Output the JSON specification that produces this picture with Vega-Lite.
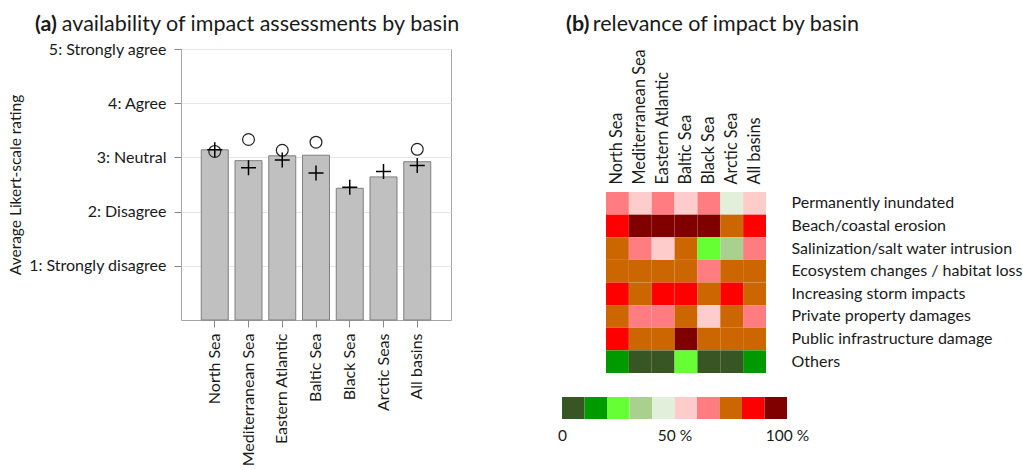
{
  "$schema": "https://vega.github.io/schema/vega-lite/v6.json",
  "padding": {"left": 7, "top": 13, "right": 5, "bottom": 5},
  "background": "white",
  "config": {
    "font": "Lato",
    "view": {"stroke": null},
    "axis": {"labelColor": "#1a1a1a", "titleColor": "#1a1a1a", "titleFontWeight": "normal"},
    "title": {"color": "#1a1a1a", "subtitleColor": "#1a1a1a"}
  },
  "datasets": {
    "bars": [
      {"basin": "North Sea", "mean": 3.14, "circle": 3.11, "cross": 3.14},
      {"basin": "Mediterranean Sea", "mean": 2.94, "circle": 3.33, "cross": 2.81},
      {"basin": "Eastern Atlantic", "mean": 3.03, "circle": 3.13, "cross": 2.95},
      {"basin": "Baltic Sea", "mean": 3.04, "circle": 3.28, "cross": 2.71},
      {"basin": "Black Sea", "mean": 2.43, "circle": null, "cross": 2.45},
      {"basin": "Arctic Seas", "mean": 2.64, "circle": null, "cross": 2.74},
      {"basin": "All basins", "mean": 2.92, "circle": 3.15, "cross": 2.85}
    ],
    "heat": [
      {"impact": "Permanently inundated", "basin": "North Sea", "pct": 65},
      {"impact": "Permanently inundated", "basin": "Mediterranean Sea", "pct": 55},
      {"impact": "Permanently inundated", "basin": "Eastern Atlantic", "pct": 65},
      {"impact": "Permanently inundated", "basin": "Baltic Sea", "pct": 55},
      {"impact": "Permanently inundated", "basin": "Black Sea", "pct": 65},
      {"impact": "Permanently inundated", "basin": "Arctic Sea", "pct": 45},
      {"impact": "Permanently inundated", "basin": "All basins", "pct": 55},
      {"impact": "Beach/coastal erosion", "basin": "North Sea", "pct": 85},
      {"impact": "Beach/coastal erosion", "basin": "Mediterranean Sea", "pct": 95},
      {"impact": "Beach/coastal erosion", "basin": "Eastern Atlantic", "pct": 95},
      {"impact": "Beach/coastal erosion", "basin": "Baltic Sea", "pct": 95},
      {"impact": "Beach/coastal erosion", "basin": "Black Sea", "pct": 95},
      {"impact": "Beach/coastal erosion", "basin": "Arctic Sea", "pct": 75},
      {"impact": "Beach/coastal erosion", "basin": "All basins", "pct": 85},
      {"impact": "Salinization/salt water intrusion", "basin": "North Sea", "pct": 75},
      {"impact": "Salinization/salt water intrusion", "basin": "Mediterranean Sea", "pct": 65},
      {"impact": "Salinization/salt water intrusion", "basin": "Eastern Atlantic", "pct": 55},
      {"impact": "Salinization/salt water intrusion", "basin": "Baltic Sea", "pct": 75},
      {"impact": "Salinization/salt water intrusion", "basin": "Black Sea", "pct": 25},
      {"impact": "Salinization/salt water intrusion", "basin": "Arctic Sea", "pct": 35},
      {"impact": "Salinization/salt water intrusion", "basin": "All basins", "pct": 65},
      {"impact": "Ecosystem changes / habitat loss", "basin": "North Sea", "pct": 75},
      {"impact": "Ecosystem changes / habitat loss", "basin": "Mediterranean Sea", "pct": 75},
      {"impact": "Ecosystem changes / habitat loss", "basin": "Eastern Atlantic", "pct": 75},
      {"impact": "Ecosystem changes / habitat loss", "basin": "Baltic Sea", "pct": 75},
      {"impact": "Ecosystem changes / habitat loss", "basin": "Black Sea", "pct": 65},
      {"impact": "Ecosystem changes / habitat loss", "basin": "Arctic Sea", "pct": 75},
      {"impact": "Ecosystem changes / habitat loss", "basin": "All basins", "pct": 75},
      {"impact": "Increasing storm impacts", "basin": "North Sea", "pct": 85},
      {"impact": "Increasing storm impacts", "basin": "Mediterranean Sea", "pct": 75},
      {"impact": "Increasing storm impacts", "basin": "Eastern Atlantic", "pct": 85},
      {"impact": "Increasing storm impacts", "basin": "Baltic Sea", "pct": 85},
      {"impact": "Increasing storm impacts", "basin": "Black Sea", "pct": 75},
      {"impact": "Increasing storm impacts", "basin": "Arctic Sea", "pct": 85},
      {"impact": "Increasing storm impacts", "basin": "All basins", "pct": 75},
      {"impact": "Private property damages", "basin": "North Sea", "pct": 75},
      {"impact": "Private property damages", "basin": "Mediterranean Sea", "pct": 65},
      {"impact": "Private property damages", "basin": "Eastern Atlantic", "pct": 65},
      {"impact": "Private property damages", "basin": "Baltic Sea", "pct": 75},
      {"impact": "Private property damages", "basin": "Black Sea", "pct": 55},
      {"impact": "Private property damages", "basin": "Arctic Sea", "pct": 75},
      {"impact": "Private property damages", "basin": "All basins", "pct": 65},
      {"impact": "Public infrastructure damage", "basin": "North Sea", "pct": 85},
      {"impact": "Public infrastructure damage", "basin": "Mediterranean Sea", "pct": 75},
      {"impact": "Public infrastructure damage", "basin": "Eastern Atlantic", "pct": 75},
      {"impact": "Public infrastructure damage", "basin": "Baltic Sea", "pct": 95},
      {"impact": "Public infrastructure damage", "basin": "Black Sea", "pct": 75},
      {"impact": "Public infrastructure damage", "basin": "Arctic Sea", "pct": 75},
      {"impact": "Public infrastructure damage", "basin": "All basins", "pct": 75},
      {"impact": "Others", "basin": "North Sea", "pct": 15},
      {"impact": "Others", "basin": "Mediterranean Sea", "pct": 5},
      {"impact": "Others", "basin": "Eastern Atlantic", "pct": 5},
      {"impact": "Others", "basin": "Baltic Sea", "pct": 25},
      {"impact": "Others", "basin": "Black Sea", "pct": 5},
      {"impact": "Others", "basin": "Arctic Sea", "pct": 5},
      {"impact": "Others", "basin": "All basins", "pct": 15}
    ],
    "cbar": [
      {"lo": 0, "hi": 10, "pct": 5},
      {"lo": 10, "hi": 20, "pct": 15},
      {"lo": 20, "hi": 30, "pct": 25},
      {"lo": 30, "hi": 40, "pct": 35},
      {"lo": 40, "hi": 50, "pct": 45},
      {"lo": 50, "hi": 60, "pct": 55},
      {"lo": 60, "hi": 70, "pct": 65},
      {"lo": 70, "hi": 80, "pct": 75},
      {"lo": 80, "hi": 90, "pct": 85},
      {"lo": 90, "hi": 100, "pct": 95}
    ]
  },
  "spacing": 95,
  "hconcat": [
    {
      "width": 270,
      "height": 271,
      "view": {"stroke": "#a6a6a6"},
      "title": {
        "text": "(a)",
        "subtitle": "\u200b\u2003\u2004\u2006availability of impact assessments by basin",
        "anchor": "start",
        "frame": "group",
        "dx": -146,
        "fontSize": 21.5,
        "subtitleFontSize": 21.5,
        "fontWeight": "bold",
        "subtitleFontWeight": "normal",
        "lineHeight": 21.5,
        "subtitleLineHeight": 21.5,
        "subtitlePadding": -21.5,
        "offset": 6
      },
      "data": {"name": "bars"},
      "encoding": {
        "x": {
          "field": "basin", "type": "nominal", "sort": null,
          "scale": {"paddingInner": 0.2, "paddingOuter": 0.6},
          "axis": {"title": null, "labelAngle": -90, "labelFontSize": 16, "tickSize": 7, "tickColor": "#888888", "domain": false, "labelPadding": 6, "labelLimit": 300}
        }
      },
      "layer": [
        {
          "mark": {"type": "bar", "fill": "#c0c0c0", "stroke": "#7f7f7f", "strokeWidth": 1},
          "encoding": {
            "y": {
              "field": "mean", "type": "quantitative", "title": "Average Likert-scale rating",
              "scale": {"domain": [0, 5], "nice": false},
              "axis": {
                "values": [1, 2, 3, 4, 5],
                "labelExpr": "['', '1: Strongly disagree', '2: Disagree', '3: Neutral', '4: Agree', '5: Strongly agree'][datum.value]",
                "labelFontSize": 16, "titleFontSize": 15.5, "tickSize": 7, "tickColor": "#888888", "labelPadding": 8,
                "domain": false, "grid": true, "gridColor": "#e6e6e6", "titlePadding": 5, "labelLimit": 300
              }
            }
          }
        },
        {
          "mark": {"type": "point", "shape": "circle", "filled": false, "stroke": "#222222", "strokeWidth": 1.2, "size": 140, "opacity": 1},
          "encoding": {"y": {"field": "circle", "type": "quantitative", "title": "Average Likert-scale rating"}}
        },
        {
          "mark": {"type": "point", "shape": "M-1,0L1,0M0,-1L0,1", "filled": false, "stroke": "#000000", "strokeWidth": 1.5, "size": 225, "opacity": 1},
          "encoding": {"y": {"field": "cross", "type": "quantitative", "title": "Average Likert-scale rating"}}
        }
      ]
    },
    {
      "vconcat": [
        {
          "width": 248,
          "height": 119,
          "title": {
            "text": "(b)",
            "subtitle": "\u200b\u2003\u2004\u2006relevance of impact by basin",
            "anchor": "start",
            "frame": "group",
            "dx": 4,
            "fontSize": 21.5,
            "subtitleFontSize": 21.5,
            "fontWeight": "bold",
            "subtitleFontWeight": "normal",
            "lineHeight": 21.5,
            "subtitleLineHeight": 21.5,
            "subtitlePadding": -21.5,
            "offset": 14
          },
          "data": {"values": []},
          "mark": {"type": "point"},
          "encoding": {}
        },
        {
          "width": 160,
          "height": 181,
          "data": {"name": "heat"},
          "mark": {"type": "rect"},
          "encoding": {
            "x": {
              "field": "basin", "type": "nominal",
              "sort": ["North Sea", "Mediterranean Sea", "Eastern Atlantic", "Baltic Sea", "Black Sea", "Arctic Sea", "All basins"],
              "scale": {"padding": 0},
              "axis": {"orient": "top", "title": null, "labelAngle": -90, "ticks": false, "domain": false, "labelPadding": 8, "labelFontSize": 16.3, "labelLimit": 300}
            },
            "y": {
              "field": "impact", "type": "nominal",
              "sort": ["Permanently inundated", "Beach/coastal erosion", "Salinization/salt water intrusion", "Ecosystem changes / habitat loss", "Increasing storm impacts", "Private property damages", "Public infrastructure damage", "Others"],
              "scale": {"padding": 0},
              "axis": {"orient": "right", "title": null, "ticks": false, "domain": false, "labelPadding": 25, "labelFontSize": 16, "labelLimit": 400}
            },
            "color": {
              "field": "pct", "type": "quantitative", "legend": null,
              "scale": {"type": "threshold", "domain": [10, 20, 30, 40, 50, 60, 70, 80, 90],
                "range": ["#375623", "#009900", "#66ff33", "#a9d08e", "#e2efda", "#ffcccc", "#ff7c80", "#cc6600", "#ff0000", "#800000"]}
            }
          }
        },
        {
          "width": 248,
          "height": 22,
          "data": {"name": "cbar"},
          "mark": {"type": "rect"},
          "encoding": {
            "x": {
              "field": "lo", "type": "quantitative",
              "scale": {"domain": [0, 110.22], "nice": false, "zero": false},
              "axis": {"values": [0, 50, 100], "labelExpr": "datum.value == 0 ? '0' : datum.value + ' %'", "title": null, "domain": false, "ticks": false, "grid": false, "labelPadding": 9, "labelFontSize": 15.5, "labelFlush": false}
            },
            "x2": {"field": "hi"},
            "color": {
              "field": "pct", "type": "quantitative", "legend": null,
              "scale": {"type": "threshold", "domain": [10, 20, 30, 40, 50, 60, 70, 80, 90],
                "range": ["#375623", "#009900", "#66ff33", "#a9d08e", "#e2efda", "#ffcccc", "#ff7c80", "#cc6600", "#ff0000", "#800000"]}
            }
          }
        }
      ],
      "center": true,
      "bounds": "flush",
      "spacing": 24
    }
  ]
}
